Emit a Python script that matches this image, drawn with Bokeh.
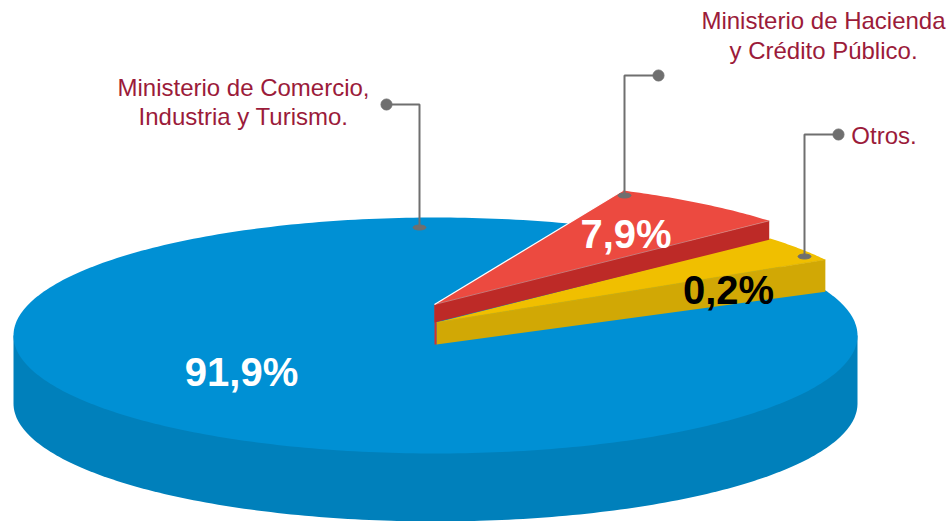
import numpy as np
from bokeh.core.properties import value
from bokeh.embed import file_html
from bokeh.models import Range1d
from bokeh.plotting import figure
from bokeh.resources import INLINE

# Data
shares = [91.9, 7.9, 0.2]
share_labels = [f"{v:.1f}%".replace(".", ",") for v in shares]
share_colors = ["white", "white", "black"]
share_x = [241, 625.5, 728]
share_y = [371, 233, 289]
red_angles = [41.8, 65.2]
yellow_angles = [30.0, 42.0]

label_lines = ["Ministerio de Comercio,", "Industria y Turismo.",
               "Ministerio de Hacienda", "y Crédito Público.", "Otros."]
label_x = [243, 243, 823, 823, 883.5]
label_y = [87, 116, 20, 50, 135]

leader_x = [[386, 419, 419], [658, 624, 624], [838, 804, 804]]
leader_y = [[104, 104, 227], [75, 75, 195], [134, 134, 256]]

BLUE, BLUE_D = "#0090D4", "#0080BB"
RED, RED_D = "#EC4A40", "#BD2A27"
YEL, YEL_D = "#F0BF00", "#D1A805"
GRAY = "#6F6F6F"
LABEL = "#9B1B3A"

p = figure(width=949, height=521, x_range=Range1d(0, 949), y_range=Range1d(521, 0),
           output_backend="svg", toolbar_location=None, min_border=0,
           outline_line_color=None, background_fill_color="white")
p.axis.visible = False
p.grid.visible = False
p.styles = {"position": "absolute", "left": "0", "top": "0"}

CX, CY, RX, RY, DEPTH = 435.0, 335.0, 422.0, 118.0, 68.0
th = np.radians(np.linspace(0, 360, 361))
lo = np.radians(np.linspace(0, 180, 181))

# blue body
sx = CX + RX * np.cos(lo)
sy = CY + RY * np.sin(lo)
p.patch(np.r_[sx, sx[::-1]], np.r_[sy + DEPTH, np.full(sx.size, CY)], fill_color=BLUE_D, line_color=None)
p.patch(CX + RX * np.cos(th), CY + RY * np.sin(th), fill_color=BLUE, line_color=None)

K = RY / RX
WR = 449.0


def arc(ax, ay, angles):
    t = np.radians(np.linspace(angles[0], angles[1], 40))
    return ax + WR * np.cos(t), ay - WR * K * np.sin(t)


# yellow wedge
ya, yb = 436.0, 322.0
xa, ya_arc = arc(ya, yb, yellow_angles)
p.patch(np.r_[ya, xa], np.r_[yb, ya_arc], fill_color=YEL, line_color=None)
p.patch([ya, xa[0], xa[0], ya], [yb, ya_arc[0], ya_arc[0] + 32, yb + 22], fill_color=YEL_D, line_color=None)
p.line([ya, xa[0]], [yb, ya_arc[0]], line_color="#DDB203", line_width=0.8)

# red wedge
ra, rb = 434.0, 304.0
xr, yr_arc = arc(ra, rb, red_angles)
p.patch([ra, ya, ya, ra], [rb, rb, yb + 22, yb + 22], fill_color="#D8302B", line_color=None)
p.patch(np.r_[ra, xr], np.r_[rb, yr_arc], fill_color=RED, line_color=None)
p.patch([ra, xr[0], xr[0], ra], [rb, yr_arc[0], yr_arc[0] + 19, rb + 18], fill_color=RED_D, line_color=None)
p.line([ra, xr[0]], [rb, yr_arc[0]], line_color="#D8807A", line_width=0.8)
p.line([ra, xr[-1]], [rb, yr_arc[-1]], line_color="white", line_width=1.2)

# leaders
p.multi_line(leader_x, leader_y, line_color=GRAY, line_width=2)
p.scatter([xs[0] for xs in leader_x], [ys[0] for ys in leader_y], size=11, marker="circle", color=GRAY)
p.ellipse([xs[-1] for xs in leader_x], [ys[-1] for ys in leader_y], width=13, height=5, color=GRAY)

# texts
p.text(share_x, share_y, text=share_labels, text_color=share_colors,
       text_font=value("Liberation Sans"), text_font_style="bold", text_font_size="40px",
       text_align="center", text_baseline="middle")
p.text(label_x, label_y, text=label_lines, text_color=LABEL,
       text_font=value("Liberation Sans"), text_font_size="24px",
       text_align="center", text_baseline="middle")

open("out.html", "w").write(file_html(p, INLINE))
